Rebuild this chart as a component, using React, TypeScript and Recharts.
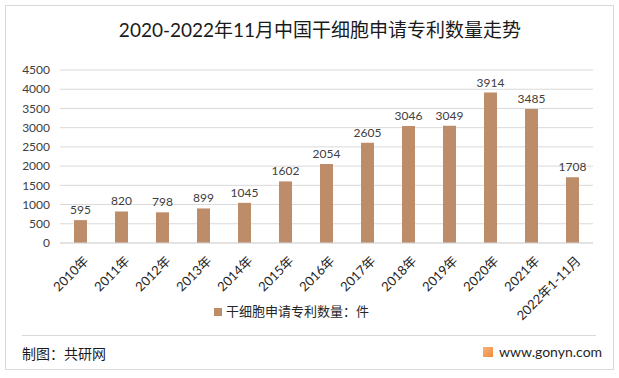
import { BarChart, Bar, XAxis, YAxis, CartesianGrid, Legend, LabelList } from "recharts";

const years = [
  "2010年", "2011年", "2012年", "2013年", "2014年", "2015年", "2016年",
  "2017年", "2018年", "2019年", "2020年", "2021年", "2022年1-11月",
];
const patents = [595, 820, 798, 899, 1045, 1602, 2054, 2605, 3046, 3049, 3914, 3485, 1708];
const yTicks = [0, 500, 1000, 1500, 2000, 2500, 3000, 3500, 4000, 4500];

const data = years.map((name, i) => ({ name, value: patents[i] }));

const font = "Lato, 'Noto Sans CJK SC', sans-serif";
const cjk = "'Noto Sans CJK SC', sans-serif";

const RotatedTick = ({ x, y, payload }: any) => (
  <g transform={`translate(${x + 6},${y + 8})`}>
    <text x={0} y={0} dy={4} textAnchor="end" transform="rotate(-45)" fill="#262626" fontSize={13} fontFamily={font}>
      {payload.value}
    </text>
  </g>
);

const App = () => {
  return (
    <div style={{ position: "absolute", left: 0, top: 0, width: 619, height: 378, background: "#fff", fontFamily: cjk }}>
      <div style={{ position: "absolute", left: 5, top: 5, width: 607, height: 363, border: "1px solid #d9d9d9" }} />
      <div style={{ position: "absolute", left: 0, top: 17, width: 640, textAlign: "center", fontSize: 19, color: "#1a1a1a", lineHeight: "26px", fontFamily: font }}>
        2020-2022年11月中国干细胞申请专利数量走势
      </div>
      <div style={{ position: "absolute", left: 0, top: 0 }}>
        <BarChart width={619} height={330} data={data} margin={{ top: 70, right: 26, left: 0, bottom: 10 }}>
          <CartesianGrid vertical={false} stroke="#d9d9d9" />
          <YAxis
            width={60}
            ticks={yTicks}
            domain={[0, 4500]}
            tickLine={false}
            axisLine={false}
            tick={{ fill: "#404040", fontSize: 12, fontFamily: font }}
            tickMargin={4}
            interval={0}
          />
          <XAxis dataKey="name" height={58} interval={0} tickLine={false} axisLine={{ stroke: "#d9d9d9" }} tick={<RotatedTick />} />
          <Legend
            verticalAlign="bottom"
            iconType="square"
            iconSize={8}
            wrapperStyle={{ fontSize: 13, fontFamily: cjk, color: "#262626" }}
            formatter={(v: string) => <span style={{ color: "#262626" }}>{v}</span>}
          />
          <Bar dataKey="value" name="干细胞申请专利数量：件" fill="#bd8c69" barSize={13} isAnimationActive={false}>
            <LabelList dataKey="value" position="top" offset={6} fill="#404040" fontSize={12} fontFamily={font} />
          </Bar>
        </BarChart>
      </div>
      <div style={{ position: "absolute", left: 22, top: 335, width: 574, height: 1, background: "#d9d9d9" }} />
      <div style={{ position: "absolute", left: 22, top: 343, fontSize: 14, color: "#1a1a1a", lineHeight: "20px" }}>制图：共研网</div>
      <div style={{ position: "absolute", left: 483, top: 347, width: 10, height: 10, background: "linear-gradient(135deg, #f7b27a, #f08a3c)" }} />
      <div style={{ position: "absolute", left: 499, top: 342, fontSize: 14, color: "#262626", lineHeight: "20px", fontFamily: font }}>www.gonyn.com</div>
    </div>
  );
};

export default App;
